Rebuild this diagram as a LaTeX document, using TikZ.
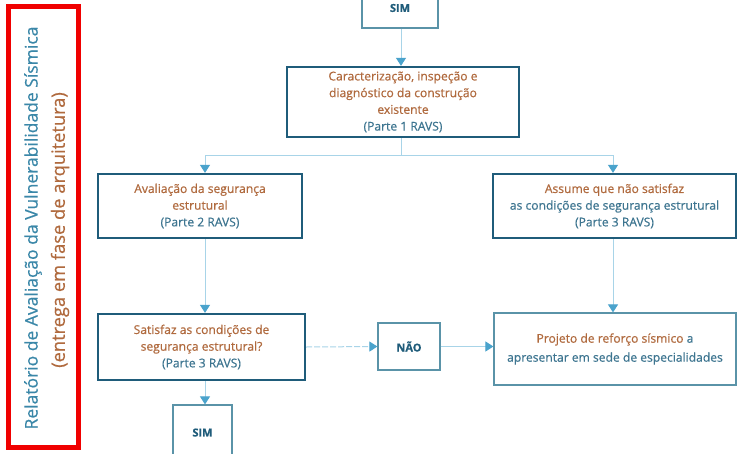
\documentclass[tikz,border=0pt]{standalone}
\usepackage{fontspec}
\setmainfont{Open Sans}[FakeBold=0.5]
\usetikzlibrary{arrows.meta}
\definecolor{boxdark}{HTML}{1F5C7A}
\definecolor{boxlight}{HTML}{5A93A8}
\definecolor{txtorange}{HTML}{B06A3E}
\definecolor{txtteal}{HTML}{3D7590}
\definecolor{arrowblue}{HTML}{4AA3CC}
\definecolor{linelight}{HTML}{A8D4E8}
\definecolor{vtitle}{HTML}{3A87A8}
\definecolor{framered}{HTML}{F00000}
\tikzset{
  mainbox/.style={draw=boxdark, line width=2.3pt, fill=white, align=center, inner sep=2pt,
    font=\fontsize{12.1}{16.7}\selectfont, text=txtorange},
  thinbox/.style={draw=boxlight, line width=1.2pt, fill=white, align=center, inner sep=2pt,
    font=\fontsize{12.1}{19}\selectfont, text=txtorange},
  flow/.style={draw=linelight, line width=1pt, -{Triangle[length=8pt,width=10pt,fill=arrowblue,color=arrowblue]}},
  flowline/.style={draw=linelight, line width=1pt},
  dashflow/.style={draw=linelight, line width=1pt, dash pattern=on 6pt off 2pt, -{Triangle[length=8pt,width=10pt,fill=arrowblue,color=arrowblue]}},
}
\begin{document}
\begin{tikzpicture}[x=1pt,y=-1pt]
\useasboundingbox (0,0) rectangle (742,453);
\clip (0,0) rectangle (742,453);
\fill[white] (0,0) rectangle (742,453);

% red frame with vertical title
\draw[framered, line width=4.5pt] (8.5,6.5) rectangle (78.5,447.5);
\node[rotate=90, text=vtitle, font=\fontsize{17.5}{20}\selectfont] (vt1) at (33,228) {Relatório de Avaliação da Vulnerabilidade Sísmica};
\node[rotate=90, text=txtorange, font=\fontsize{18.3}{20}\selectfont] (vt2) at (60,230) {(entrega em fase de arquitetura)};

% boxes
\node[thinbox, minimum width=76pt, minimum height=40pt, text=boxdark, font=\fontsize{11}{14}\bfseries] (sim1) at (400,8) {\raisebox{-5pt}{SIM}};
\node[mainbox, minimum width=232pt, minimum height=70pt] (carac) at (403,102)
  {Caracterização, inspeção e\\diagnóstico da construção\\existente\\\textcolor{txtteal}{(Parte 1 RAVS)}};
\node[mainbox, minimum width=204pt, minimum height=64pt] (aval) at (200,206)
  {Avaliação da segurança\\estrutural\\\textcolor{txtteal}{(Parte 2 RAVS)}};
\node[mainbox, minimum width=243pt, minimum height=64pt] (assume) at (614.5,206)
  {Assume que não satisfaz\\\textcolor{txtteal}{as condições de segurança estrutural}\\\textcolor{txtteal}{(Parte 3 RAVS)}};
\node[mainbox, minimum width=207pt, minimum height=66pt] (satisf) at (201.5,347)
  {Satisfaz as condições de\\segurança estrutural?\\\textcolor{txtteal}{(Parte 3 RAVS)}};
\node[thinbox, minimum width=62pt, minimum height=47pt, text=boxdark, font=\fontsize{11}{14}\bfseries] (nao) at (409,346.5) {NÃO};
\node[thinbox, minimum width=242pt, minimum height=72pt] (projeto) at (615,349)
  {Projeto de reforço sísmico \textcolor{txtteal}{a}\\\textcolor{txtteal}{apresentar em sede de especialidades}};
\node[thinbox, minimum width=59pt, minimum height=60pt, text=boxdark, font=\fontsize{11}{14}\bfseries] (sim2) at (202.5,435) {\raisebox{5pt}{SIM}};

% connectors
\coordinate (split) at (401,155);
\coordinate (splitL) at (205,155);
\coordinate (splitR) at (613,155);
\draw[flow] (sim1.south -| split) -- (carac.north -| split);
\draw[flowline] (carac.south -| split) -- (split);
\draw[flowline] (splitL) -- (splitR);
\draw[flow] (splitL) -- (aval.north -| splitL);
\draw[flow] (splitR) -- (assume.north -| splitR);
\draw[flow] (aval.south -| splitL) -- (satisf.north -| splitL);
\draw[flow] (assume.south -| splitR) -- (projeto.north -| splitR);
\draw[dashflow] (satisf.east) -- (nao.west);
\draw[flow] (nao.east) -- (projeto.west |- nao.east);
\draw[flow] (satisf.south -| splitL) -- (sim2.north -| splitL);
\end{tikzpicture}
\end{document}
